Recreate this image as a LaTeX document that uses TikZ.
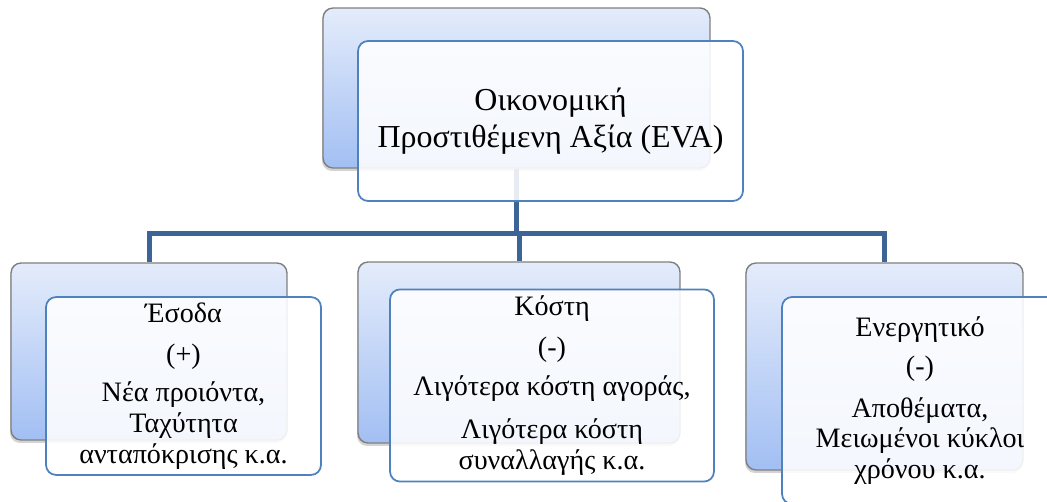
\documentclass[tikz,border=0pt]{standalone}
\usepackage{fontspec}
\setmainfont{Liberation Serif}
\usetikzlibrary{shadows}
\definecolor{busblue}{HTML}{3D6496}
\definecolor{framegray}{HTML}{7F7F7F}
\definecolor{edgeblue}{HTML}{4F81BD}
\definecolor{backtop}{HTML}{E4ECFB}
\definecolor{backbot}{HTML}{A2BFF3}
\begin{document}
\begin{tikzpicture}[x=0.02cm,y=-0.02cm,
backbox/.style={draw=framegray,line width=0.8pt,rounded corners=0.2cm,
	top color=backtop,bottom color=backbot,
	drop shadow={shadow xshift=-0.02cm,shadow yshift=-0.06cm,opacity=0.35}},
frontbox/.style={draw=edgeblue,line width=1pt,rounded corners=0.2cm,
	fill=white,fill opacity=0.88,text opacity=1,align=center,
	font=\fontsize{16}{17.5}\selectfont},
bus/.style={draw=busblue,line width=0.1cm}]
\useasboundingbox (0,0) rectangle (1047,502);
\begin{scope}
\clip (0,0) rectangle (1047,502);

%back boxes
\node[backbox,minimum width=7.74cm,minimum height=3.2cm] (evaBack) at (516.5,88) {};
\node[backbox,minimum width=5.52cm,minimum height=3.54cm] (esodaBack) at (149,351.5) {};
\node[backbox,minimum width=6.44cm,minimum height=3.62cm] (kostiBack) at (519,352.5) {};
\node[backbox,minimum width=5.54cm,minimum height=4.14cm] (energBack) at (884.5,366.5) {};

%connectors
\coordinate (bus) at (516.5,234);
\draw[bus] (evaBack.south) -- (bus);
\draw[bus] (esodaBack.north) |- (bus) -| (energBack.north);
\draw[bus] (bus -| kostiBack.north) -- (kostiBack.north);

%front boxes
\node[frontbox,minimum width=7.7cm,minimum height=3.2cm,
	font=\fontsize{18.2}{21}\selectfont] (eva) at (550.5,121)
	{Οικονομική\\Προστιθέμενη Αξία (EVA)};
\node[frontbox,minimum width=5.5cm,minimum height=3.52cm] (esoda) at (183.5,386)
	{Έσοδα\\[6pt] (+)\\[4pt] Νέα προιόντα,\\ Ταχύτητα\\ ανταπόκρισης κ.α.};
\node[frontbox,minimum width=6.48cm,minimum height=3.7cm] (kosti) at (552,385.5)
	{Κόστη\\[6pt] (-)\\[5pt] Λιγότερα κόστη αγοράς,\\[7pt] Λιγότερα κόστη\\ συναλλαγής κ.α.};
\node[frontbox,minimum width=5.52cm,minimum height=4.14cm] (energ) at (920,400.5)
	{Ενεργητικό\\[5pt] (-)\\[6pt] Αποθέματα,\\ Μειωμένοι κύκλοι\\ χρόνου κ.α.};
\end{scope}
\end{tikzpicture}
\end{document}
